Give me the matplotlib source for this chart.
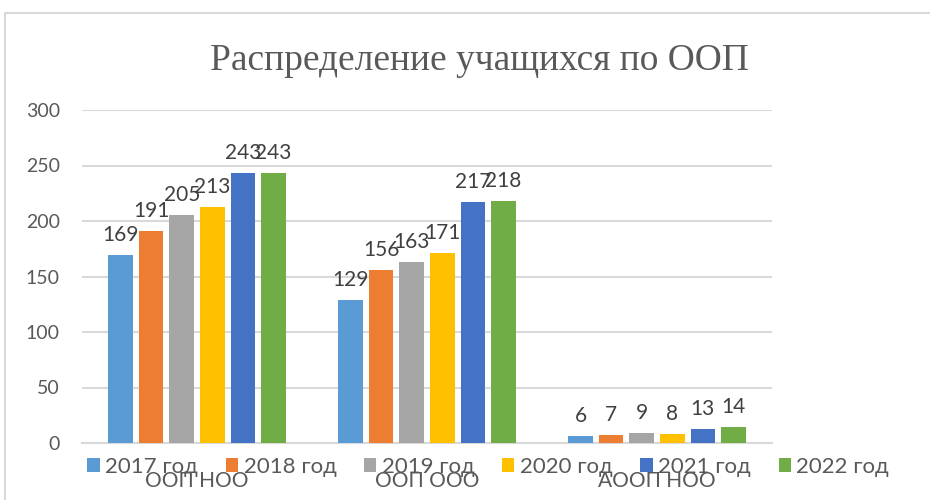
import numpy as np
import matplotlib.pyplot as plt
from matplotlib.patches import Rectangle

categories = ['ООП НОО', 'ООП ООО', 'АООП НОО']
years = ['2017 год', '2018 год', '2019 год', '2020 год', '2021 год', '2022 год']
values = [
    [169, 129, 6],
    [191, 156, 7],
    [205, 163, 9],
    [213, 171, 8],
    [243, 217, 13],
    [243, 218, 14],
]
colors = ['#5B9BD5', '#ED7D31', '#A5A5A5', '#FFC000', '#4472C4', '#70AD47']

plt.rcParams['font.family'] = ['Lato', 'DejaVu Sans']

fig = plt.figure(figsize=(9.3, 5), dpi=100)
# light frame of the chart area (cropped screenshot look)
fig.patches.append(Rectangle((5 / 930, -0.1), 1.2, 1.1 - 13 / 500,
                             transform=fig.transFigure, fill=False,
                             edgecolor='#D9D9D9', linewidth=1.5))

ax = fig.add_axes([82 / 930, 1 - 443 / 500, 690 / 930, 333 / 500])

x = np.arange(len(categories))
step = 0.133
width = 0.107
for i, (year, vals) in enumerate(zip(years, values)):
    pos = x + (i - 2.5) * step
    bars = ax.bar(pos, vals, width=width, color=colors[i], label=year, zorder=3)
    for b, v in zip(bars, vals):
        ax.text(b.get_x() + b.get_width() / 2, v + 9, str(v), ha='center', va='bottom',
                fontsize=15, color='#404040')

ax.set_xlim(-0.5, 2.5)
ax.set_ylim(0, 300)
ax.set_yticks(range(0, 301, 50))
ax.tick_params(axis='y', length=0, labelsize=14, labelcolor='#595959', pad=16)
ax.set_xticks(x)
ax.set_xticklabels(categories, fontsize=15, color='#595959')
ax.tick_params(axis='x', length=0, pad=20)
ax.grid(axis='y', color='#D9D9D9', linewidth=1.5, zorder=0)
for s in ['top', 'right', 'left']:
    ax.spines[s].set_visible(False)
ax.spines['bottom'].set_color('#D9D9D9')
ax.spines['bottom'].set_linewidth(1.5)

fig.text(0.515, 0.878, 'Распределение учащихся по ООП', ha='center', va='center',
         fontsize=27, color='#595959', family='Liberation Serif')

fig.legend(loc='center', bbox_to_anchor=(0.525, 0.066), ncol=6, frameon=False,
           fontsize=16, handlelength=0.55, handleheight=0.55, handletextpad=0.25,
           columnspacing=1.25, labelcolor='#595959')

fig.savefig('out.png', dpi=100)
